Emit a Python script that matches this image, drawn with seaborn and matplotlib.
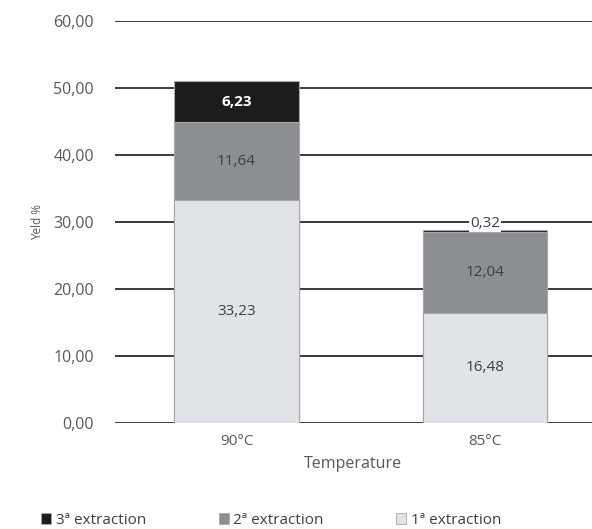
import matplotlib
matplotlib.use("Agg")
import matplotlib.pyplot as plt
from matplotlib.patches import Patch
import seaborn as sns
import pandas as pd
import numpy as np

# Extraction yield per temperature, stacked by extraction step
temperatures = ["90°C", "85°C"]
first_extraction = [33.23, 16.48]
second_extraction = [11.64, 12.04]
third_extraction = [6.23, 0.32]
series_names = ["3ª extraction", "2ª extraction", "1ª extraction"]
y_ticks = [0, 10, 20, 30, 40, 50, 60]

colors = {"1ª extraction": "#e1e3e6", "2ª extraction": "#8d8e91", "3ª extraction": "#1c1c1c"}
text_gray = "#595959"

sns.set_theme(style="white")
plt.rcParams["font.family"] = ["Open Sans", "DejaVu Sans"]

df = pd.DataFrame({
    "Temperature": temperatures,
    "first": first_extraction,
    "second": second_extraction,
    "third": third_extraction,
})
df["cum2"] = df["first"] + df["second"]
df["cum3"] = df["cum2"] + df["third"]

fig = plt.figure(figsize=(5.92, 5.29), dpi=100)
ax = fig.add_axes([0.194, 0.2004, 0.806, 0.7596])

edge = "#a8a8a8"
# Cumulative totals drawn from tallest to shortest so each layer sits on the one below
sns.barplot(data=df, x="Temperature", y="cum3", color=colors["3ª extraction"], width=0.5,
            edgecolor=edge, linewidth=0.8, saturation=1, ax=ax)
sns.barplot(data=df, x="Temperature", y="cum2", color=colors["2ª extraction"], width=0.5,
            edgecolor=edge, linewidth=0.8, saturation=1, ax=ax)
sns.barplot(data=df, x="Temperature", y="first", color=colors["1ª extraction"], width=0.5,
            edgecolor=edge, linewidth=0.8, saturation=1, ax=ax)

ax.set_ylim(0, 60)
ax.set_xlim(-0.49, 1.43)
ax.set_yticks(y_ticks)
ax.set_yticklabels([f"{v:.2f}".replace(".", ",") for v in y_ticks])
ax.yaxis.grid(True, color="#3a3a3a", linewidth=1.4)
ax.set_axisbelow(True)
for s in ax.spines.values():
    s.set_visible(False)
ax.tick_params(axis="y", length=0, pad=15, labelsize=11.5, labelcolor=text_gray)
ax.tick_params(axis="x", length=0, pad=8, labelsize=11, labelcolor=text_gray)
ax.set_xlabel("Temperature", fontsize=11.5, color=text_gray, labelpad=5)
ax.set_ylabel("Yeld %", fontsize=8.5, color=text_gray, labelpad=7)

def fmt(v):
    return f"{v:.2f}".replace(".", ",")

for i in range(len(temperatures)):
    f, s, t = first_extraction[i], second_extraction[i], third_extraction[i]
    ax.text(i, f / 2, fmt(f), ha="center", va="center", fontsize=11, color="#404040")
    ax.text(i, f + s / 2, fmt(s), ha="center", va="center", fontsize=11, color="#404040")
    if t > 2:
        ax.text(i, f + s + t / 2, fmt(t), ha="center", va="center", fontsize=11,
                color="white", fontweight="bold")
    else:
        ax.text(i, f + s + t + 0.9, fmt(t), ha="center", va="center", fontsize=11,
                color="#404040",
                bbox=dict(boxstyle="square,pad=0.05", facecolor="white", edgecolor="none"))

handles = [Patch(facecolor=colors[n], edgecolor=edge, linewidth=0.6) for n in series_names]
fig.legend(handles, series_names, loc="lower center", bbox_to_anchor=(0.458, -0.024),
           ncol=3, frameon=False, fontsize=11, labelcolor="#404040",
           handlelength=0.65, handleheight=0.65, handletextpad=0.3, columnspacing=4.75)

fig.savefig("out.png", dpi=100)
